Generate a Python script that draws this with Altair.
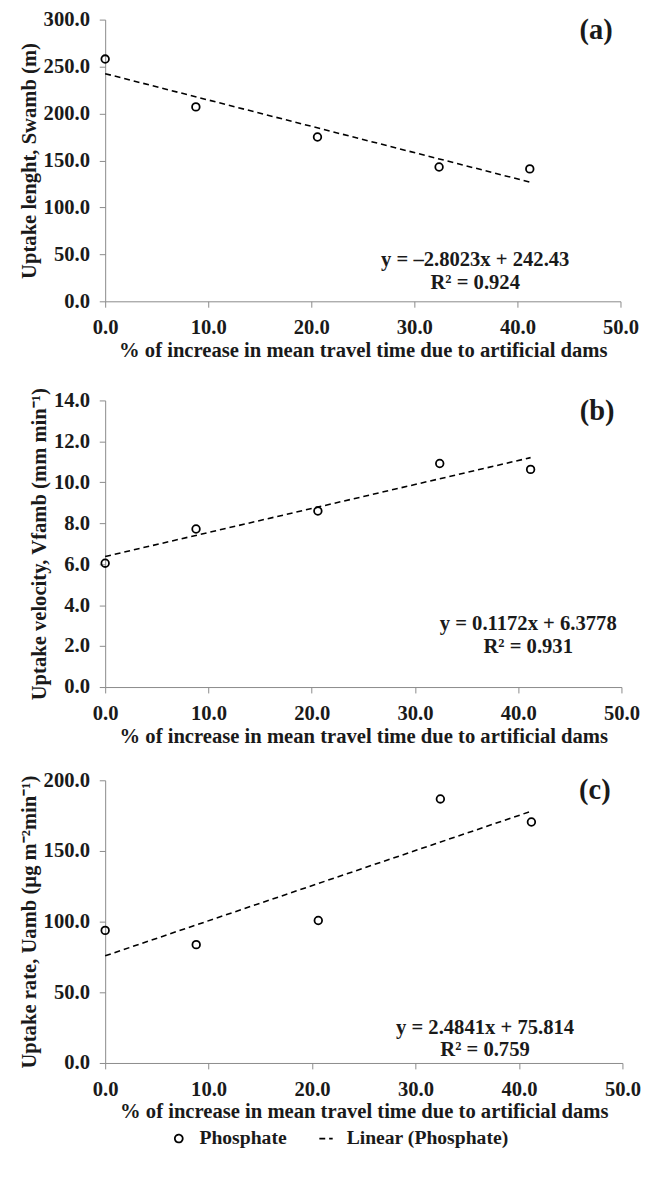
import altair as alt
import pandas as pd

# ---- data ----
x_pct = [0.0, 8.8, 20.6, 32.4, 41.2]
swamb = [258.0, 207.0, 175.0, 143.0, 141.0]
vfamb = [6.05, 7.72, 8.6, 10.92, 10.63]
uamb = [93.8, 83.7, 100.8, 186.8, 170.5]

slopes = [-2.8023, 0.1172, 2.4841]
intercepts = [242.43, 6.3778, 75.814]
eq_texts = ["y = \u20132.8023x + 242.43", "y = 0.1172x + 6.3778", "y = 2.4841x + 75.814"]
r2_texts = ["R\u00b2 = 0.924", "R\u00b2 = 0.931", "R\u00b2 = 0.759"]
panel_labels = ["(a)", "(b)", "(c)"]
y_titles = [
    "Uptake lenght, Swamb (m)",
    "Uptake velocity, Vfamb (mm min\u207b\u00b9)",
    "Uptake rate, Uamb (\u00b5g m\u207b\u00b2min\u207b\u00b9)",
]
y_max = [300, 14, 200]
y_step = [50, 2, 50]
x_ticks = [0, 10, 20, 30, 40, 50]
x_title = "% of increase in mean travel time due to artificial dams"
legend_labels = ["Phosphate", "Linear (Phosphate)"]

FONT = "Liberation Serif"
INK = "#1a1a1a"

# layout (pixels) per panel
widths = [525, 526, 527]
heights = [287, 292, 288]
eq_xy = [(377, 245), (431, 228), (387, 252)]
lab_xy = [(517, 11), (519, 11), (515, 10)]


def panel(i, yvals, show_legend):
    pts = pd.DataFrame({"x": x_pct, "y": yvals, "series": legend_labels[0]})
    xf = [x_pct[0], x_pct[-1]]
    fit = pd.DataFrame({
        "x": xf,
        "y": [slopes[i] * v + intercepts[i] for v in xf],
        "series": legend_labels[1],
    })
    xenc = alt.X("x:Q", scale=alt.Scale(domain=[0, 50], nice=False),
                 axis=alt.Axis(values=x_ticks, format=".1f", title=x_title))
    yenc = alt.Y("y:Q", scale=alt.Scale(domain=[0, y_max[i]], nice=False),
                 axis=alt.Axis(values=list(range(0, y_max[i] + 1, y_step[i])),
                               format=".1f", title=y_titles[i]))
    leg = None
    if show_legend:
        leg = alt.Legend(title=None, orient="none", legendX=65, legendY=355,
                         direction="horizontal")
    line = alt.Chart(fit).mark_line(color="black", strokeWidth=1.6).encode(
        x=xenc, y=yenc,
        strokeDash=alt.StrokeDash("series:N",
                                  scale=alt.Scale(domain=legend_labels, range=[[1, 0], [6, 4]]),
                                  legend=leg),
    )
    points = alt.Chart(pts).mark_point(filled=False, color="black", size=60,
                                       strokeWidth=1.8, opacity=1).encode(
        x=xenc, y=yenc,
        shape=alt.Shape("series:N",
                        scale=alt.Scale(domain=legend_labels, range=["circle", "M-1.7,0H1.7"]),
                        legend=leg),
    )
    eq = alt.Chart(pd.DataFrame({"t": [eq_texts[i] + "\n" + r2_texts[i]]})).mark_text(
        font=FONT, fontSize=21, fontWeight="bold", color=INK, align="center",
        baseline="middle", lineBreak="\n", lineHeight=23,
    ).encode(text="t:N", x=alt.value(eq_xy[i][0]), y=alt.value(eq_xy[i][1]))
    lab = alt.Chart(pd.DataFrame({"t": [panel_labels[i]]})).mark_text(
        font=FONT, fontSize=29, fontWeight="bold", color=INK, align="right",
        baseline="middle",
    ).encode(text="t:N", x=alt.value(lab_xy[i][0]), y=alt.value(lab_xy[i][1]))
    return alt.layer(line, points, eq, lab).properties(width=widths[i], height=heights[i])


pa = panel(0, swamb, False)
pb = panel(1, vfamb, False)
pc = panel(2, uamb, True)

top = alt.vconcat(pa, pb, spacing=27)
chart = alt.vconcat(top, pc, spacing=24).resolve_scale(
    shape="independent", strokeDash="independent"
).resolve_legend(
    shape="independent", strokeDash="independent"
).properties(
    padding={"left": 10, "top": -10, "right": 5, "bottom": 0}
).configure_view(stroke=None).configure_axis(
    domainColor="#8a8a8a", tickColor="#8a8a8a", domainWidth=1, tickWidth=1,
    tickSize=6, grid=False, labelFont=FONT, labelFontSize=21, labelFontWeight="bold",
    labelColor=INK, labelPadding=10, labelFlush=False,
    titleFont=FONT, titleFontSize=21, titleFontWeight="bold", titleColor=INK,
).configure_axisX(titlePadding=2).configure_axisY(titlePadding=4).configure_legend(
    labelFont=FONT, labelFontSize=20, labelFontWeight="bold", labelColor=INK,
    symbolSize=64, symbolStrokeWidth=1.8, symbolStrokeColor="black",
    symbolFillColor="transparent", labelOffset=11, columnPadding=29, padding=0,
    labelLimit=400,
)

chart.save("out.html", embed_options={"renderer": "svg", "actions": False})
